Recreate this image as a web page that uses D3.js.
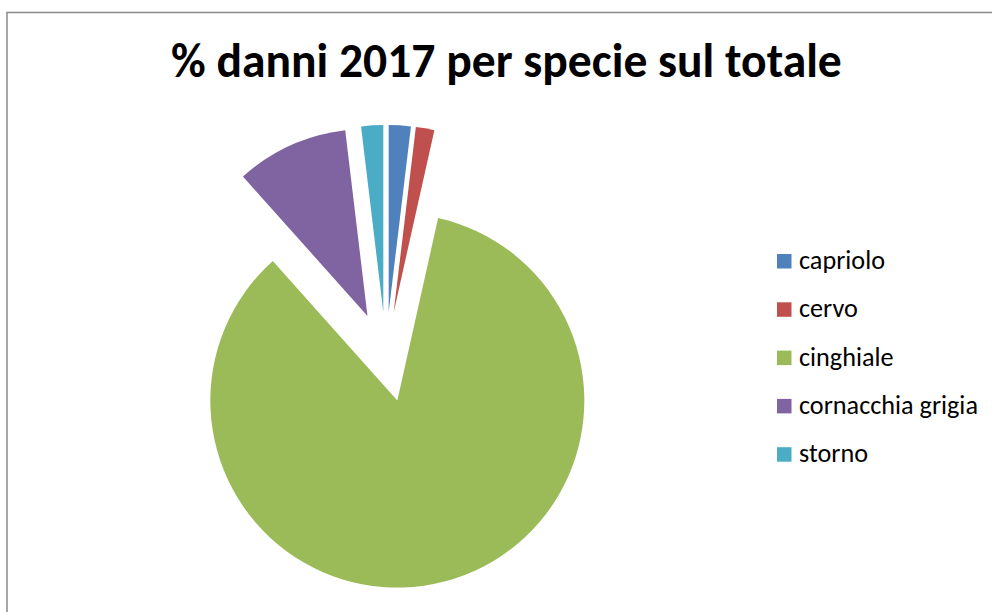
<!DOCTYPE html>
<html>
<head>
<meta charset="utf-8">
<script src="https://cdn.jsdelivr.net/npm/d3@7"></script>
<style>
  html, body { margin: 0; padding: 0; background: #fff; }
  svg { display: block; }
</style>
</head>
<body>
<svg id="chart" width="992" height="612"></svg>
<script>
const title = "% danni 2017 per specie sul totale";
const categories = ["capriolo", "cervo", "cinghiale", "cornacchia grigia", "storno"];
const values = [1.9, 1.6, 84.9, 9.7, 1.9];
const colors = ["#4F81BD", "#C0504D", "#9BBB59", "#8064A2", "#4BACC6"];

const svg = d3.select("#chart");
const font = "Carlito, Calibri, Lato, 'Open Sans', sans-serif";

// frame
svg.append("path")
  .attr("d", "M7,620 L7,12.5 L1000,12.5")
  .attr("fill", "none")
  .attr("stroke", "#898989")
  .attr("stroke-width", 1.5);

// title, sized so its width matches the reference
const t = svg.append("text")
  .attr("x", 171)
  .attr("y", 77)
  .attr("font-family", font)
  .attr("font-weight", "bold")
  .attr("font-size", 40)
  .attr("fill", "#000")
  .text(title);
const tw = t.node().getComputedTextLength();
const tSize = 40 * 671 / tw;
t.attr("font-size", tSize);

// pie
const cx = 386, cy = 357, r = 187, explode = 45;
const data = categories.map((c, i) => ({ cat: c, value: values[i], color: colors[i] }));
const pie = d3.pie().sort(null).value(d => d.value).startAngle(0).endAngle(2 * Math.PI);
const arc = d3.arc().innerRadius(0).outerRadius(r);

const g = svg.append("g").attr("transform", `translate(${cx},${cy})`);
g.selectAll("path.slice")
  .data(pie(data))
  .join("path")
  .attr("class", "slice")
  .attr("d", arc)
  .attr("fill", d => d.data.color)
  .attr("transform", d => {
    const a = (d.startAngle + d.endAngle) / 2;
    return `translate(${explode * Math.sin(a)},${-explode * Math.cos(a)})`;
  });

// legend
const legend = svg.append("g");
const lx = 777, ly0 = 261.5, ldy = 48.3;
const items = legend.selectAll("g.item")
  .data(data)
  .join("g")
  .attr("class", "item")
  .attr("transform", (d, i) => `translate(${lx},${ly0 + i * ldy})`);
items.append("rect")
  .attr("x", 0).attr("y", -7.5)
  .attr("width", 14.5).attr("height", 14.5)
  .attr("fill", d => d.color);
const labels = items.append("text")
  .attr("x", 22)
  .attr("y", 7.5)
  .attr("font-family", font)
  .attr("font-size", 21)
  .attr("fill", "#000")
  .text(d => d.cat);
// size legend font so the longest label spans the reference width
const longest = labels.filter(d => d.cat === "cornacchia grigia").node().getComputedTextLength();
const lSize = Math.min(28, 21 * 179 / longest);
labels.attr("font-size", lSize);
</script>
</body>
</html>
